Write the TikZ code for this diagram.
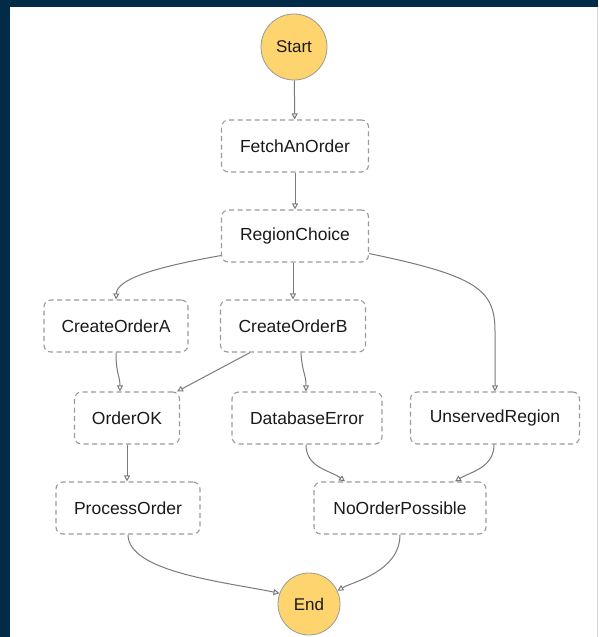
\documentclass[tikz,border=0pt]{standalone}
\usepackage{fontspec}
\setmainfont{Liberation Sans}
\usetikzlibrary{arrows.meta,calc}
\definecolor{navy}{HTML}{022B47}
\definecolor{startyel}{HTML}{FDD46E}
\definecolor{boxgray}{HTML}{9A9A9A}
\definecolor{linegray}{HTML}{7A7A7A}
\definecolor{txt}{HTML}{1A1A1A}
\tikzset{
  state/.style={draw=boxgray, dashed, dash pattern=on 5pt off 3.5pt, line width=1.1pt, rounded corners=7pt,
    minimum width=#1, minimum height=52pt, inner sep=0pt, text=txt, font=\fontsize{17.5}{19}\selectfont},
  term/.style={circle, draw=boxgray, line width=0.8pt, fill=startyel, minimum size=66pt, inner sep=0pt, text=txt,
    font=\fontsize{17}{19}\selectfont},
  flow/.style={draw=linegray, line width=1pt, -{Triangle[open, length=6pt, width=6pt]}},
}
\begin{document}
\begin{tikzpicture}[x=1pt, y=-1pt]
\useasboundingbox (0,0) rectangle (598,637);
\fill[navy] (0,0) rectangle (598,637);
\fill[white] (10,7) rectangle (598,637);
\draw[gray!30, line width=0.8pt] (597,7) -- (597,637);

\node[term] (start) at (294,47) {Start};
\node[state=147pt] (fetch) at (295,146) {FetchAnOrder};
\node[state=147pt] (rc) at (295,236) {RegionChoice};
\node[state=144pt] (coA) at (116,326) {CreateOrderA};
\node[state=145pt] (coB) at (293,326) {CreateOrderB};
\node[state=105pt] (ok) at (127,418) {OrderOK};
\node[state=150pt] (db) at (307,418) {DatabaseError};
\node[state=169pt] (ur) at (495,418) {UnservedRegion};
\node[state=144pt] (po) at (128,508) {ProcessOrder};
\node[state=172pt] (nop) at (400,508) {NoOrderPossible};
\node[term, minimum size=62pt] (end) at (309,604) {End};

\draw[flow] (start) -- (fetch);
\draw[flow] (fetch) -- (rc);
\draw[flow] ($(rc.south west)+(0,-7)$) .. controls (150,268) and (117,280) .. (coA.north);
\draw[flow] ($(rc.south)+(-2,0)$) -- (coB.north);
\draw[flow] ($(rc.south east)+(0,-9)$) .. controls (478,276) and (495,290) .. ($(ur.north)+(0,-60)$) -- (ur.north);
\draw[flow] (coA.south) .. controls (116,374) and (120,376) .. ($(ok.north)+(-7,0)$);
\draw[flow] ($(coB.south)+(-43,0)$) -- ($(ok.north east)+(-3,0)$);
\draw[flow] ($(coB.south)+(8,0)$) .. controls (302,372) and (306,374) .. ($(db.north)+(-1,0)$);
\draw[flow] (ok.south) -- ($(po.north)+(-1,0)$);
\draw[flow] ($(db.south)+(-1,0)$) .. controls (306,468) and (330,470) .. ($(nop.north)+(-55,0)$);
\draw[flow] ($(ur.south)+(-1,0)$) .. controls (494,468) and (470,472) .. ($(nop.north)+(55,0)$);
\draw[flow] (po.south) .. controls (128,572) and (225,582) .. (end.160);
\draw[flow] (nop.south) .. controls (400,572) and (352,582) .. (end.25);
\end{tikzpicture}
\end{document}
